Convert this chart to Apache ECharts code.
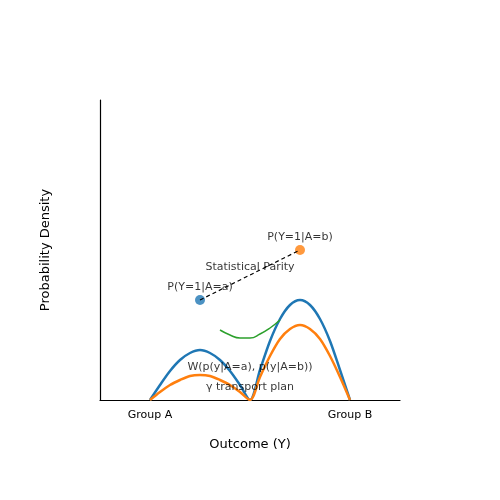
<!DOCTYPE html>
<html>
<head>
<meta charset="utf-8">
<script src="https://cdn.jsdelivr.net/npm/echarts@6/dist/echarts.min.js"></script>
</head>
<body style="margin:0">
<div id="container" style="width:500px;height:500px"></div>
<script>
var tickLabels = { 0.5: 'Group A', 2.5: 'Group B' };

var blueCurve = [
    [0.5, 0], [0.6, 0.15], [0.7, 0.29], [0.8, 0.4], [0.9, 0.47], [1.0, 0.5], [1.1, 0.47], [1.2, 0.4], [1.3, 0.29], [1.4, 0.15], [1.5, 0],
    [1.6, 0.3], [1.7, 0.59], [1.8, 0.81], [1.9, 0.95], [2.0, 1.0], [2.1, 0.95], [2.2, 0.81], [2.3, 0.59], [2.4, 0.3], [2.5, 0]
];
var orangeCurve = [
    [0.5, 0], [0.6, 0.08], [0.7, 0.15], [0.8, 0.2], [0.9, 0.24], [1.0, 0.25], [1.1, 0.24], [1.2, 0.2], [1.3, 0.15], [1.4, 0.08], [1.5, 0],
    [1.6, 0.23], [1.7, 0.44], [1.8, 0.61], [1.9, 0.71], [2.0, 0.75], [2.1, 0.71], [2.2, 0.61], [2.3, 0.44], [2.4, 0.23], [2.5, 0]
];
var greenCurve = [[1.2, 0.7], [1.3, 0.65], [1.4, 0.62], [1.5, 0.62], [1.6, 0.66], [1.7, 0.72], [1.8, 0.8]];

var pointA = [1.0, 1.0];
var pointB = [2.0, 1.5];

var texts = [
    { value: [1.0, 1.13], name: 'P(Y=1|A=a)' },
    { value: [2.0, 1.63], name: 'P(Y=1|A=b)' },
    { value: [1.5, 1.33], name: 'Statistical Parity' },
    { value: [1.5, 0.33], name: 'W(p(y|A=a), p(y|A=b))' },
    { value: [1.5, 0.13], name: 'γ transport plan' }
];

var myChart = echarts.init(document.getElementById('container'));

var font = 'DejaVu Sans';

var option = {
    animation: false,
    textStyle: { fontFamily: font },
    grid: { left: 100, top: 100, width: 300, height: 300 },
    xAxis: {
        type: 'value', min: 0, max: 3, interval: 0.5,
        name: 'Outcome (Y)', nameLocation: 'middle', nameGap: 38,
        nameTextStyle: { fontSize: 13, color: '#000', fontFamily: font },
        splitLine: { show: false },
        axisTick: { show: false },
        axisLine: { lineStyle: { color: '#000', width: 1.2 } },
        axisLabel: {
            color: '#000', fontSize: 11, margin: 10, fontFamily: font,
            formatter: function (v) { return tickLabels[v] || ''; }
        }
    },
    yAxis: {
        type: 'value', min: 0, max: 3,
        name: 'Probability Density', nameLocation: 'middle', nameGap: 48,
        nameTextStyle: { fontSize: 13, color: '#000', fontFamily: font },
        splitLine: { show: false },
        axisTick: { show: false },
        axisLabel: { show: false },
        axisLine: { show: true, lineStyle: { color: '#000', width: 1.2 } }
    },
    series: [
        { type: 'line', data: blueCurve, smooth: 0.3, symbol: 'none', lineStyle: { color: '#1f77b4', width: 2.5 } },
        { type: 'line', data: orangeCurve, smooth: 0.3, symbol: 'none', lineStyle: { color: '#ff7f0e', width: 2.5 } },
        { type: 'line', data: greenCurve, smooth: true, symbol: 'none', lineStyle: { color: '#2ca02c', width: 1.5 } },
        { type: 'line', data: [pointA, pointB], symbol: 'none', lineStyle: { color: '#000', width: 1.2, type: [4, 3] }, z: 3 },
        { type: 'scatter', data: [pointA], symbolSize: 10, itemStyle: { color: '#1f77b4' }, z: 2 },
        { type: 'scatter', data: [pointB], symbolSize: 10, itemStyle: { color: '#ff7f0e' }, z: 2 },
        {
            type: 'scatter', data: texts, symbolSize: 0, z: 5,
            label: {
                show: true, position: 'inside', color: '#000', fontSize: 11, fontFamily: font,
                formatter: function (p) { return p.name; }
            }
        }
    ]
};

myChart.setOption(option);
</script>
</body>
</html>
